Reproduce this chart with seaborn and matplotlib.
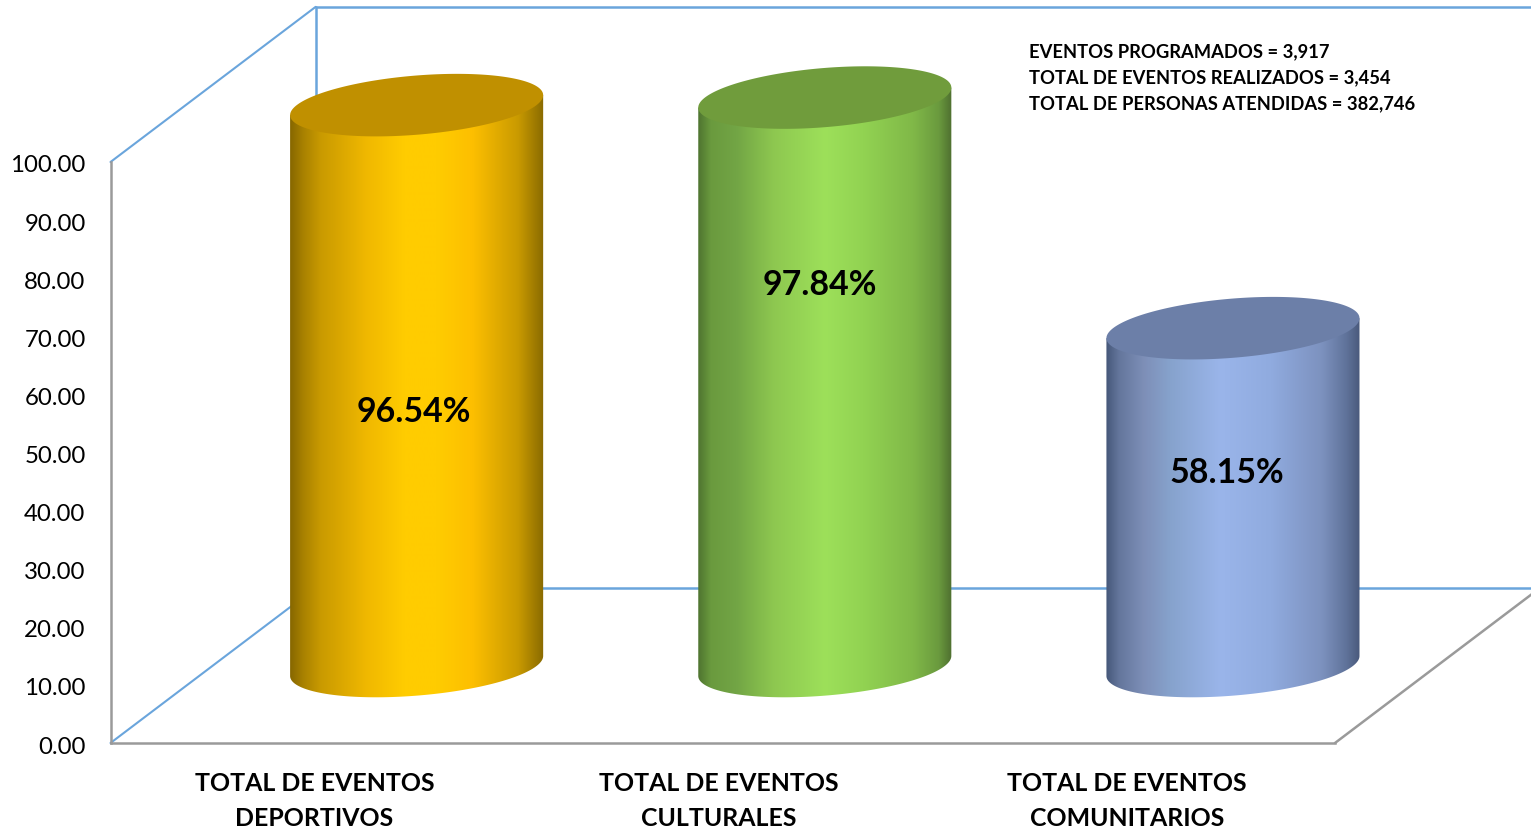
"""Cylinder column chart of events carried out, 3D look on plain axes."""
import matplotlib
matplotlib.use("Agg")

import matplotlib.pyplot as plt
import numpy as np
import pandas as pd
import seaborn as sns
from matplotlib.colors import LinearSegmentedColormap
from matplotlib.patches import Polygon
from matplotlib.transforms import ScaledTranslation

# data
CATEGORIES = ["TOTAL DE EVENTOS\nDEPORTIVOS", "TOTAL DE EVENTOS\nCULTURALES",
              "TOTAL DE EVENTOS\nCOMUNITARIOS"]
VALUES = [96.54, 97.84, 58.15]
VALUE_LABELS = ["96.54%", "97.84%", "58.15%"]
Y_TICKS = [0, 10, 20, 30, 40, 50, 60, 70, 80, 90, 100]
NOTES = ["EVENTOS PROGRAMADOS = 3,917",
         "TOTAL DE EVENTOS REALIZADOS = 3,454",
         "TOTAL DE PERSONAS ATENDIDAS = 382,746"]

# styles
BODY_STOPS = [
    [(0, "#876700"), (.05, "#a88100"), (.12, "#c99a00"), (.3, "#f0b800"), (.45, "#ffcc00"),
     (.58, "#ffcc00"), (.72, "#fdbf00"), (.9, "#c99a00"), (1, "#8a6b00")],
    [(0, "#4f7530"), (.05, "#6a9a3e"), (.15, "#72a545"), (.3, "#8ec850"), (.5, "#9de05a"),
     (.65, "#92d352"), (.85, "#80b848"), (.95, "#6a9a3e"), (1, "#4f7030")],
    [(0, "#46587a"), (.05, "#64769c"), (.15, "#7e8fb8"), (.25, "#86a2cc"), (.45, "#9ab5ea"),
     (.65, "#90abdf"), (.85, "#7d92bf"), (.95, "#5f7299"), (1, "#4a5a7c")],
]
TOP_COLORS = ["#c09000", "#709c3c", "#6c7fa8"]
BLUE_LINE = "#6aa5dc"
GRAY_LINE = "#9a9a9a"

# oblique projection, in data units
WALL_DX, WALL_DY = 0.5025, 26.7
BAR_DX, BAR_DY = 0.25, 13.25
ELLIPSE_B, ELLIPSE_SHEAR = 5.1, 1.72
LABEL_HEIGHTS = [57.0, 78.9, 46.5]
LABEL_DX = [0.243, 0.238, 0.235]

sns.set_theme(style="white")
plt.rcParams["font.family"] = ["Lato", "DejaVu Sans"]

df = pd.DataFrame({"category": CATEGORIES, "value": VALUES})

W, H = 1531, 833
fig = plt.figure(figsize=(W / 100, H / 100), dpi=100, facecolor="white")
ax = fig.add_axes([110.5 / W, (H - 743) / H, 1224.5 / W, 581 / H])

sns.barplot(data=df, x="category", y="value", hue="category", width=0.62,
            legend=False, ax=ax, zorder=3)

x0, x1 = -0.5, 2.5
# walls and floor lines, behind the cylinders
wall_kw = dict(color=BLUE_LINE, lw=1.8, clip_on=False, zorder=1)
ax.plot([x0, x0 + WALL_DX], [100, 100 + WALL_DY], **{**wall_kw, "lw": 1.5})
ax.plot([x0, x0 + WALL_DX], [0, WALL_DY], **{**wall_kw, "lw": 1.5})
ax.plot([x0 + WALL_DX, x0 + WALL_DX], [WALL_DY, 100 + WALL_DY], **wall_kw)
ax.plot([x0 + WALL_DX, x1 + WALL_DX], [100 + WALL_DY, 100 + WALL_DY], **wall_kw)
ax.plot([x0 + WALL_DX, x1 + WALL_DX], [WALL_DY, WALL_DY], **wall_kw)
ax.plot([x1, x1 + WALL_DX], [0, WALL_DY], color=GRAY_LINE, lw=1.8,
        clip_on=False, zorder=1)

# turn the seaborn bars into cylinders
t = np.linspace(0, 2 * np.pi, 240)
for bar, stops, top, label, lab_y, lab_dx in zip(ax.patches, BODY_STOPS, TOP_COLORS,
                                                 VALUE_LABELS, LABEL_HEIGHTS, LABEL_DX):
    bar.set_visible(False)
    cx = bar.get_x() + bar.get_width() / 2 + BAR_DX
    a = bar.get_width() / 2
    y_bot = BAR_DY
    y_top = bar.get_height() + BAR_DY

    ell_x = cx + a * np.cos(t)
    ell_y = ELLIPSE_B * np.sin(t) + ELLIPSE_SHEAR * np.cos(t)

    # body: lower edge is the front of the base ellipse
    front = t[t >= np.pi]
    bx = cx + a * np.cos(front)
    by = y_bot + ELLIPSE_B * np.sin(front) + ELLIPSE_SHEAR * np.cos(front)
    outline = np.column_stack([np.r_[bx, cx + a, cx - a],
                               np.r_[by, y_top + ELLIPSE_SHEAR, y_top - ELLIPSE_SHEAR]])
    clip = Polygon(outline, closed=True, transform=ax.transData, fc="none", ec="none")
    ax.add_patch(clip)
    clip.set_clip_on(False)

    cmap = LinearSegmentedColormap.from_list("body", stops)
    grad = np.linspace(0, 1, 256).reshape(1, -1)
    im = ax.imshow(grad, cmap=cmap, aspect="auto", zorder=3, interpolation="bilinear",
                   extent=(cx - a, cx + a, y_bot - 2 * ELLIPSE_B, y_top + 2 * ELLIPSE_B))
    im.set_clip_path(clip)
    im.set_clip_box(fig.bbox)

    ax.fill(ell_x, y_top + ell_y, color=top, lw=0, clip_on=False, zorder=4)
    ax.text(bar.get_x() + bar.get_width() / 2 + lab_dx, lab_y, label, ha="center", va="center",
            fontsize=24.4, fontweight="bold", color="black", zorder=5, clip_on=False)

ax.set_xlim(x0, x1)
ax.set_ylim(0, 100)

# axes
for side in ("top", "right"):
    ax.spines[side].set_visible(False)
for side in ("left", "bottom"):
    ax.spines[side].set_color(GRAY_LINE)
    ax.spines[side].set_linewidth(1.8)
ax.set_xlabel("")
ax.set_ylabel("")
ax.set_yticks(Y_TICKS)
ax.set_yticklabels([f"{v:.2f}" for v in Y_TICKS])
ax.tick_params(axis="y", length=0, pad=18, labelsize=17.3, labelcolor="black")
ax.tick_params(axis="x", length=0, pad=21, labelsize=17.9, labelcolor="black")
for lab in ax.get_yticklabels():
    lab.set_transform(lab.get_transform() + ScaledTranslation(0, -2 / 100, fig.dpi_scale_trans))
for lab, shift in zip(ax.get_xticklabels(), [0, -4, -4]):
    lab.set_fontweight("bold")
    lab.set_linespacing(1.6)
    lab.set_transform(lab.get_transform() + ScaledTranslation(shift / 100, 0, fig.dpi_scale_trans))

for note, py in zip(NOTES, [52, 78, 104]):
    fig.text(1029 / W, 1 - py / H, note, ha="left", va="center", fontsize=13.25,
             fontweight="bold", color="black")

fig.savefig("out.png", dpi=100)
